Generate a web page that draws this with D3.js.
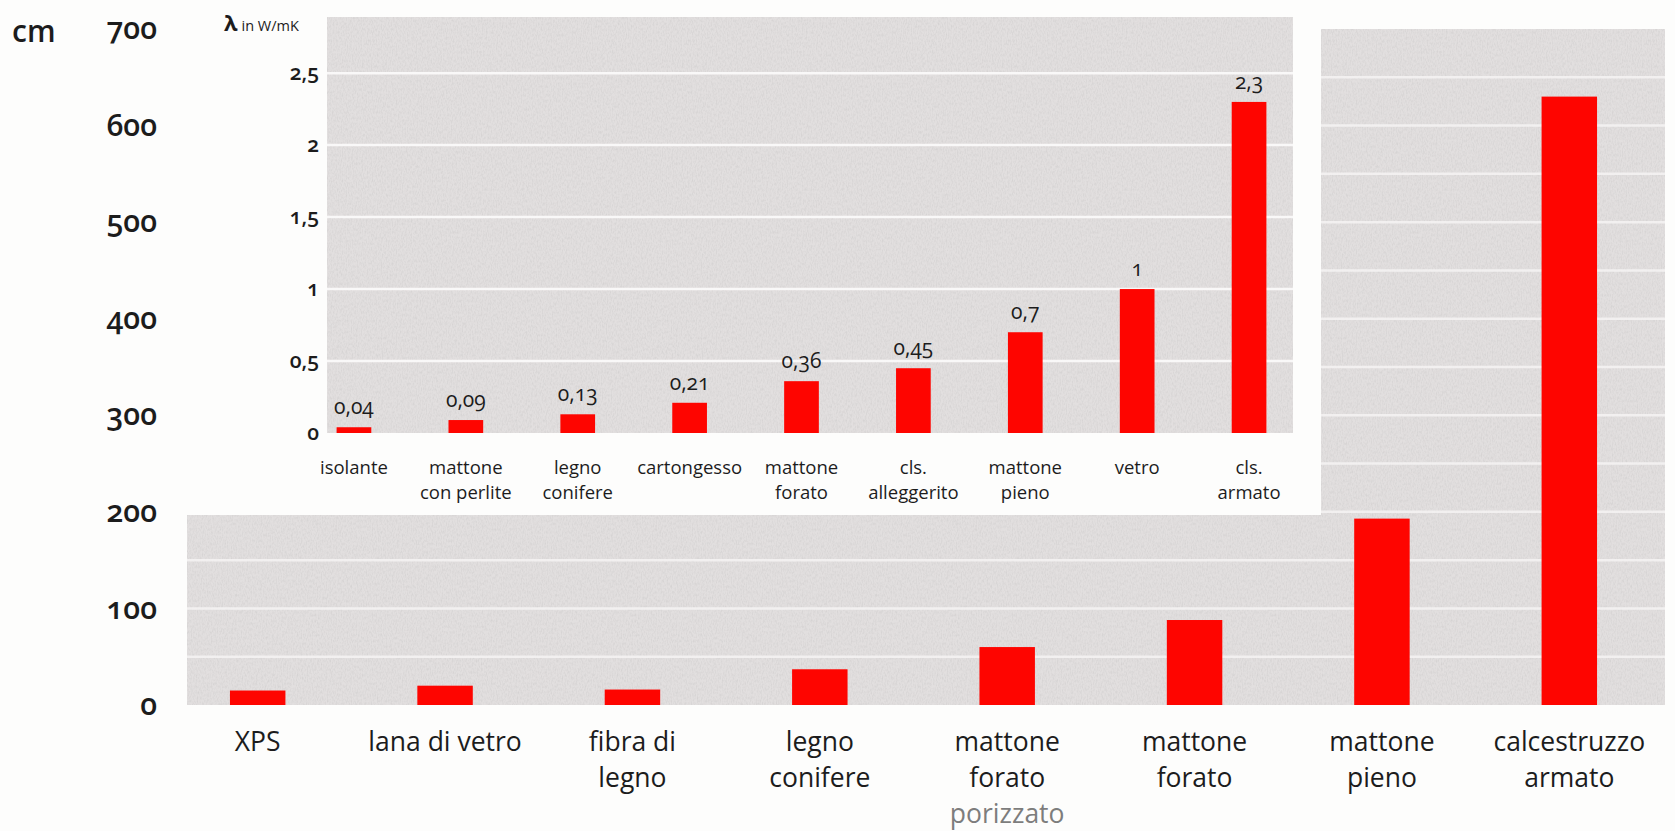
<!DOCTYPE html>
<html>
<head>
<meta charset="utf-8">
<script src="https://cdn.jsdelivr.net/npm/d3@7"></script>
<style>
  html, body { margin: 0; padding: 0; background: #fdfdfc; }
  svg { display: block; }
  text { font-family: "Open Sans", "Noto Sans", sans-serif; font-variant-numeric: oldstyle-nums; fill: #1c1c1c; }
</style>
</head>
<body>
<svg id="chart" width="1675" height="831"></svg>
<script>
// Main chart: equivalent thickness in cm.
var mainCats = ["XPS", "lana di vetro", "fibra di legno", "legno conifere", "mattone forato porizzato", "mattone forato", "mattone pieno", "calcestruzzo armato"];
var mainLines = [["XPS"], ["lana di vetro"], ["fibra di", "legno"], ["legno", "conifere"], ["mattone", "forato", "porizzato"], ["mattone", "forato"], ["mattone", "pieno"], ["calcestruzzo", "armato"]];
var mainValues = [15, 20, 16, 37, 60, 88, 193, 630];
var mainTicks = [0, 100, 200, 300, 400, 500, 600, 700];
var mainGrid = [50, 100, 150, 200, 250, 300, 350, 400, 450, 500, 550, 600, 650];

// Inset chart: thermal conductivity lambda in W/mK.
var insetCats = ["isolante", "mattone con perlite", "legno conifere", "cartongesso", "mattone forato", "cls. alleggerito", "mattone pieno", "vetro", "cls. armato"];
var insetLines = [["isolante"], ["mattone", "con perlite"], ["legno", "conifere"], ["cartongesso"], ["mattone", "forato"], ["cls.", "alleggerito"], ["mattone", "pieno"], ["vetro"], ["cls.", "armato"]];
var insetValues = [0.04, 0.09, 0.13, 0.21, 0.36, 0.45, 0.7, 1, 2.3];
var insetTicks = [0, 0.5, 1, 1.5, 2, 2.5];

var red = "#fe0500";
var grey = "#e2dfdf";

var it = d3.formatLocale({decimal: ",", thousands: ".", grouping: [3], currency: ["", "€"]});
var fmt = it.format("~g");

var svg = d3.select("#chart");

// paper texture
var defs = svg.append("defs");
var noise = defs.append("filter").attr("id", "noise").attr("x", 0).attr("y", 0).attr("width", "100%").attr("height", "100%");
noise.append("feTurbulence").attr("type", "fractalNoise").attr("baseFrequency", "0.8 0.35").attr("numOctaves", 2).attr("seed", 4).attr("result", "t");
noise.append("feColorMatrix").attr("in", "t").attr("type", "matrix")
    .attr("values", "0 0 0 0 0.55  0 0 0 0 0.54  0 0 0 0 0.54  0 0 0 -1.6 1.0");
noise.append("feComposite").attr("in2", "SourceGraphic").attr("operator", "in");

// scales
var x = d3.scaleBand().domain(mainCats).range([164, 1663]).paddingInner(0.704).paddingOuter(0.352);
var y = d3.scaleLinear().domain([0, 700]).range([705, 29]);

var xi = d3.scaleBand().domain(insetCats).range([298, 1305]).paddingInner(0.69).paddingOuter(0.345);
var yi = d3.scaleLinear().domain([0, 2.89]).range([433, 17]);

// main plot background
var main = svg.append("g");
main.append("rect").attr("x", 187).attr("y", y(700)).attr("width", 1665 - 187).attr("height", y(0) - y(700)).attr("fill", grey);
main.append("rect").attr("x", 187).attr("y", y(700)).attr("width", 1665 - 187).attr("height", y(0) - y(700))
    .attr("fill", grey).attr("filter", "url(#noise)").attr("opacity", 0.5);

main.selectAll("line.grid").data(mainGrid).enter().append("line")
    .attr("class", "grid")
    .attr("x1", 187).attr("x2", 1665)
    .attr("y1", function (d) { return y(d); }).attr("y2", function (d) { return y(d); })
    .attr("stroke", "#f6f4f4").attr("stroke-width", 2.5).attr("opacity", 0.85);

main.selectAll("rect.bar").data(mainValues).enter().append("rect")
    .attr("class", "bar")
    .attr("x", function (d, i) { return x(mainCats[i]); })
    .attr("y", function (d) { return y(d); })
    .attr("width", x.bandwidth())
    .attr("height", function (d) { return y(0) - y(d); })
    .attr("fill", red);

// white panel behind the inset
svg.append("rect").attr("x", 180).attr("y", 0).attr("width", 1321 - 180).attr("height", 515).attr("fill", "#fdfdfc");

// main y axis
var yAxis = svg.append("g").attr("transform", "translate(157,0)")
    .call(d3.axisLeft(y).tickValues(mainTicks).tickSize(0).tickPadding(0).tickFormat(d3.format("d")));
yAxis.select(".domain").remove();
yAxis.selectAll("text").style("font-size", "30px").style("font-weight", 600).style("font-family", "Open Sans");

svg.append("text").attr("x", 12).attr("y", 32).attr("dy", "0.32em")
    .style("font-size", "30px").style("font-weight", 600).text("cm");

// main category labels
var mlab = svg.append("g");
mainLines.forEach(function (lines, i) {
    var cx = x(mainCats[i]) + x.bandwidth() / 2;
    var t = mlab.append("text").attr("text-anchor", "middle").style("font-size", "26.5px").style("font-weight", 500);
    lines.forEach(function (l, j) {
        t.append("tspan").attr("x", cx).attr("y", 751 + j * 36).text(l)
            .style("fill", l === "porizzato" ? "#7d7d7d" : "#1c1c1c");
    });
});

// inset plot
var inset = svg.append("g");
inset.append("rect").attr("x", 327).attr("y", yi(2.89)).attr("width", 1293 - 327).attr("height", yi(0) - yi(2.89)).attr("fill", grey);
inset.append("rect").attr("x", 327).attr("y", yi(2.89)).attr("width", 1293 - 327).attr("height", yi(0) - yi(2.89))
    .attr("fill", grey).attr("filter", "url(#noise)").attr("opacity", 0.5);

inset.selectAll("line.grid").data(insetTicks.slice(1)).enter().append("line")
    .attr("class", "grid")
    .attr("x1", 327).attr("x2", 1293)
    .attr("y1", function (d) { return yi(d); }).attr("y2", function (d) { return yi(d); })
    .attr("stroke", "#f9f8f8").attr("stroke-width", 2.5);

inset.selectAll("rect.bar").data(insetValues).enter().append("rect")
    .attr("class", "bar")
    .attr("x", function (d, i) { return xi(insetCats[i]); })
    .attr("y", function (d) { return yi(d); })
    .attr("width", xi.bandwidth())
    .attr("height", function (d) { return yi(0) - yi(d); })
    .attr("fill", red);

inset.selectAll("text.val").data(insetValues).enter().append("text")
    .attr("class", "val")
    .attr("x", function (d, i) { return xi(insetCats[i]) + xi.bandwidth() / 2; })
    .attr("y", function (d) { return yi(d) - 13; })
    .attr("text-anchor", "middle")
    .style("font-size", "21px")
    .text(function (d) { return fmt(d); });

var yiAxis = svg.append("g").attr("transform", "translate(319,0)")
    .call(d3.axisLeft(yi).tickValues(insetTicks).tickSize(0).tickPadding(0).tickFormat(fmt));
yiAxis.select(".domain").remove();
yiAxis.selectAll("text").style("font-size", "21px").style("font-weight", 600).style("font-family", "Open Sans");

var lam = svg.append("text").attr("x", 224).attr("y", 31);
lam.append("tspan").style("font-size", "22px").style("font-weight", 700).text("λ");
lam.append("tspan").attr("dx", 4).style("font-size", "14.5px").text("in W/mK");

// inset category labels
var ilab = svg.append("g");
insetLines.forEach(function (lines, i) {
    var cx = xi(insetCats[i]) + xi.bandwidth() / 2;
    var t = ilab.append("text").attr("text-anchor", "middle").style("font-size", "18.5px");
    lines.forEach(function (l, j) {
        t.append("tspan").attr("x", cx).attr("y", 474 + j * 25).text(l);
    });
});
</script>
</body>
</html>
